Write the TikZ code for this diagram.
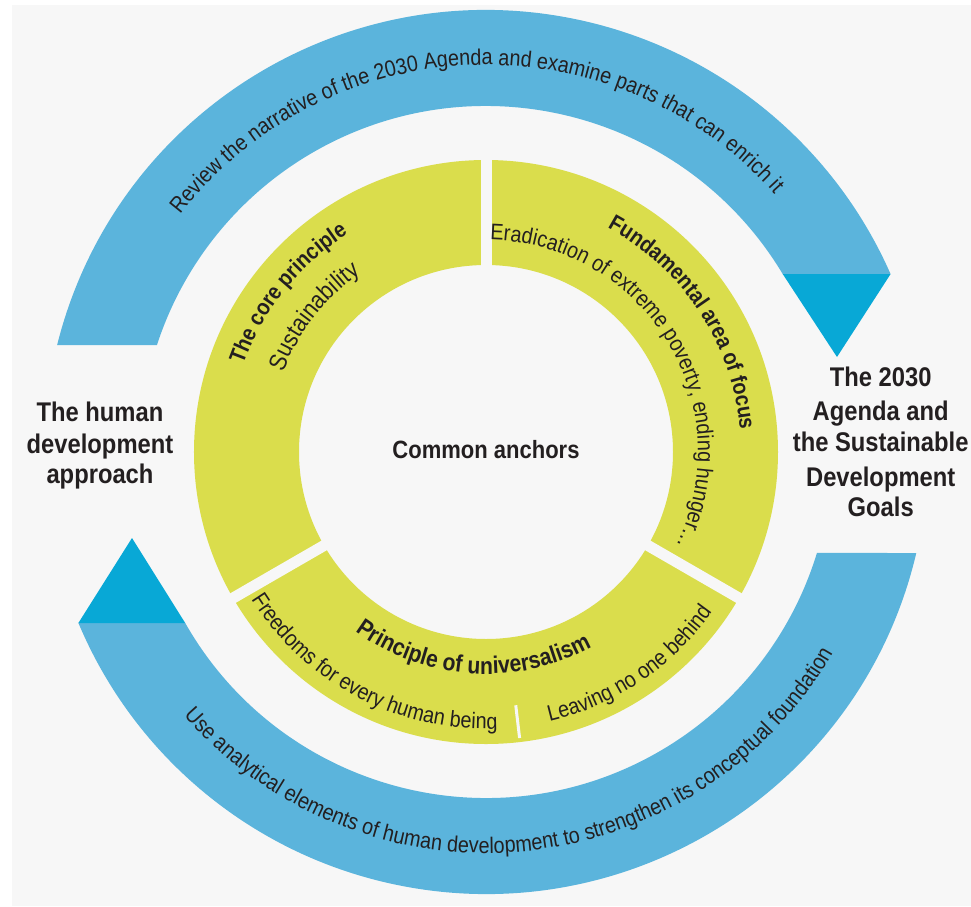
\documentclass[tikz,border=0pt]{standalone}
\usepackage{fontspec}
\setmainfont{Liberation Sans}[FakeStretch=0.88]
\usetikzlibrary{decorations.text}
\definecolor{bg}{HTML}{F7F7F7}
\definecolor{band}{HTML}{5BB4DC}
\definecolor{arrowblue}{HTML}{08A8D6}
\definecolor{ringyellow}{HTML}{DADD4C}
\definecolor{ink}{HTML}{231F20}
\newcommand\bodyfont{\fontsize{22.5}{27}\selectfont}
\newcommand\bigbodyfont{\fontsize{24.5}{29}\selectfont}
\newcommand\headfont{\bfseries\fontsize{22.5}{27}\selectfont}
\newcommand\bigheadfont{\bfseries\fontsize{24}{29}\selectfont}
\newcommand\labelfont{\bfseries\fontsize{27}{32}\selectfont}
\begin{document}
\begin{tikzpicture}[x=1pt,y=1pt,
  arctext/.style={decorate, decoration={text along path, text align=center, text color=ink, text={#1}}},
  sidelabel/.style={anchor=base, inner sep=0pt, text=ink, font=\labelfont}]
\useasboundingbox (-486,-454) rectangle (485,452);
\fill[white] (-486,-454) rectangle (485,452);
\fill[bg] (-474,-454) rectangle (485,447);

% blue bands
\fill[band] (165.99:442) arc[start angle=165.99, end angle=23.75, radius=442]
  -- (30.96:346) arc[start angle=30.96, end angle=161.99, radius=346] -- cycle;
\fill[arrowblue] (296.7,178) -- (404.6,178) -- (351,95) -- cycle;
\fill[band] (-13.21:442) arc[start angle=-13.21, end angle=-157.24, radius=442]
  -- (-150.38:346) arc[start angle=-150.38, end angle=-16.97, radius=346] -- cycle;
\fill[arrowblue] (-407.6,-171) -- (-300.8,-171) -- (-354,-86) -- cycle;

% yellow ring
\fill[ringyellow, even odd rule] (0,0) circle[radius=292] (0,0) circle[radius=187];
\foreach \a in {90,210,330} \draw[bg, line width=11] (\a:180) -- (\a:300);
\draw[bg, line width=3] (276.7:255) -- (276.7:288);

% curved texts
\path[arctext={|\bodyfont|Review the narrative of the 2030 Agenda and examine parts that can enrich it}]
  (172:387) arc[start angle=172, end angle=12, radius=387];
\path[arctext={|\bodyfont|Use analytical elements of human development to strengthen its conceptual foundation}]
  (195.5:401) arc[start angle=195.5, end angle=355.5, radius=401];
\path[arctext={|\headfont|The core principle}]
  (201.25:258) arc[start angle=201.25, end angle=81.25, radius=258];
\path[arctext={|\bigbodyfont|Sustainability}]
  (201.8:218) arc[start angle=201.8, end angle=81.8, radius=218];
\path[arctext={|\headfont|Fundamental area of focus}]
  (93.3:255) arc[start angle=93.3, end angle=-26.7, radius=255];
\path[arctext={|\bodyfont|Eradication of extreme poverty, ending hunger…}]
  (101.35:212) arc[start angle=101.35, end angle=-38.65, radius=212];
\path[arctext={|\bigheadfont|Principle of universalism}]
  (206.2:222) arc[start angle=206.2, end angle=326.2, radius=222];
\path[arctext={|\bodyfont|Freedoms for every human being}]
  (182.2:277) arc[start angle=182.2, end angle=302.2, radius=277];
\path[arctext={|\bodyfont|Leaving no one behind}]
  (244:277) arc[start angle=244, end angle=364, radius=277];

% straight labels
\node[anchor=base, inner sep=0pt, text=ink, font=\bfseries\fontsize{25}{30}\selectfont] (anchors) at (0,-6) {Common anchors};
\node[sidelabel] (hd1) at (-386,30.3) {The human};
\node[sidelabel] (hd2) at (-386,-1.3) {development};
\node[sidelabel] (hd3) at (-386,-31.3) {approach};
\node[sidelabel] (ag1) at (394.7,66) {The 2030};
\node[sidelabel] (ag2) at (394.7,31.3) {Agenda and};
\node[sidelabel] (ag3) at (394.7,0.3) {the Sustainable};
\node[sidelabel] (ag4) at (394.7,-34.7) {Development};
\node[sidelabel] (ag5) at (394.7,-64.7) {Goals};
\end{tikzpicture}
\end{document}
